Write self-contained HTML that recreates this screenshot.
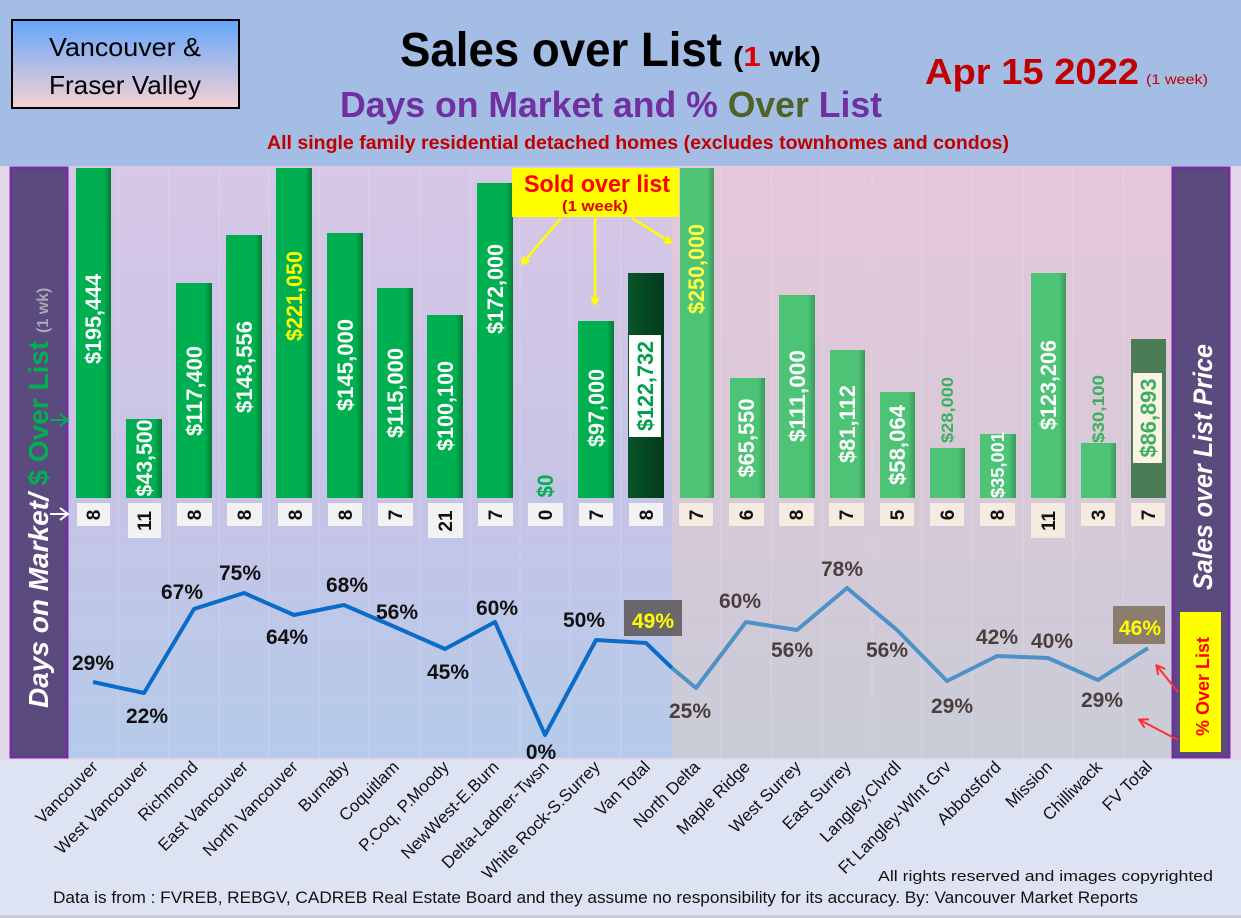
<!DOCTYPE html>
<html><head><meta charset="utf-8"><style>
html,body{margin:0;padding:0;background:#dde3f3;}
svg{display:block;font-family:"Liberation Sans",sans-serif;}
</style></head><body>
<svg width="1241" height="918" viewBox="0 0 1241 918" xmlns="http://www.w3.org/2000/svg">
<defs>
<linearGradient id="bgL" x1="0" y1="0" x2="0" y2="1"><stop offset="0" stop-color="#d8c7e6"/><stop offset="0.55" stop-color="#c6c4e6"/><stop offset="1" stop-color="#b6cbea"/></linearGradient>
<linearGradient id="bgR" x1="0" y1="0" x2="0" y2="1"><stop offset="0" stop-color="#e5c8da"/><stop offset="0.55" stop-color="#d7c9d8"/><stop offset="1" stop-color="#c9ccd8"/></linearGradient>
<linearGradient id="box" x1="0" y1="0" x2="0" y2="1"><stop offset="0" stop-color="#63a6fb"/><stop offset="1" stop-color="#f7d1d3"/></linearGradient>
<linearGradient id="gb" x1="0" y1="0" x2="1" y2="0"><stop offset="0" stop-color="#00b050"/><stop offset="0.8" stop-color="#00b050"/><stop offset="1" stop-color="#067a38"/></linearGradient>
<linearGradient id="gr" x1="0" y1="0" x2="1" y2="0"><stop offset="0" stop-color="#4dc376"/><stop offset="0.8" stop-color="#4dc376"/><stop offset="1" stop-color="#3a9a5a"/></linearGradient>
<linearGradient id="gd" x1="0" y1="0" x2="1" y2="0"><stop offset="0" stop-color="#08552a"/><stop offset="1" stop-color="#033a1b"/></linearGradient>
<marker id="ay" markerWidth="8" markerHeight="8" refX="6" refY="4" orient="auto" markerUnits="userSpaceOnUse"><path d="M0,0 L7,4 L0,8" fill="none" stroke="#ffff00" stroke-width="2.5"/></marker>
<marker id="ar" markerWidth="10" markerHeight="10" refX="8" refY="5" orient="auto" markerUnits="userSpaceOnUse"><path d="M0,0 L9,5 L0,10" fill="none" stroke="#ff3030" stroke-width="2"/></marker>
</defs>
<rect x="0" y="0" width="1241" height="918" fill="#dde3f3"/>
<rect x="0" y="0" width="1241" height="166" fill="#a3bde5"/>
<rect x="0" y="166" width="1241" height="594" fill="#e3d6ea"/>
<rect x="68" y="166" width="604" height="592" fill="url(#bgL)"/>
<rect x="672" y="166" width="500" height="592" fill="url(#bgR)"/>
<g stroke="#ffffff" stroke-opacity="0.18" stroke-width="1">
<line x1="118" y1="166" x2="118" y2="758"/><line x1="169" y1="166" x2="169" y2="758"/><line x1="219" y1="166" x2="219" y2="758"/><line x1="269" y1="166" x2="269" y2="758"/><line x1="319" y1="166" x2="319" y2="758"/><line x1="369" y1="166" x2="369" y2="758"/><line x1="420" y1="166" x2="420" y2="758"/><line x1="470" y1="166" x2="470" y2="758"/><line x1="520" y1="166" x2="520" y2="758"/><line x1="570" y1="166" x2="570" y2="758"/><line x1="621" y1="166" x2="621" y2="758"/><line x1="721" y1="166" x2="721" y2="758"/><line x1="771" y1="166" x2="771" y2="758"/><line x1="822" y1="166" x2="822" y2="758"/><line x1="872" y1="166" x2="872" y2="758"/><line x1="922" y1="166" x2="922" y2="758"/><line x1="972" y1="166" x2="972" y2="758"/><line x1="1023" y1="166" x2="1023" y2="758"/><line x1="1073" y1="166" x2="1073" y2="758"/><line x1="1123" y1="166" x2="1123" y2="758"/>
</g>

<rect x="12" y="20" width="227" height="88" fill="url(#box)" stroke="#000" stroke-width="2"/>
<text x="125" y="56" font-size="26" text-anchor="middle" fill="#000" textLength="152" lengthAdjust="spacingAndGlyphs">Vancouver &amp;</text>
<text x="125" y="94" font-size="26" text-anchor="middle" fill="#000" textLength="152" lengthAdjust="spacingAndGlyphs">Fraser Valley</text>
<text x="400" y="66" font-size="48" font-weight="bold" fill="#000" textLength="322" lengthAdjust="spacingAndGlyphs">Sales over List</text>
<text x="733" y="66" font-size="28" font-weight="bold" fill="#000" textLength="88" lengthAdjust="spacingAndGlyphs">(<tspan fill="#e00000">1</tspan> wk)</text>
<text x="340" y="117" font-size="36" font-weight="bold" fill="#7030a0" textLength="542" lengthAdjust="spacingAndGlyphs">Days on Market and % <tspan fill="#4f6228">Over</tspan> List</text>
<text x="267" y="149" font-size="19" font-weight="bold" fill="#c00000" textLength="742" lengthAdjust="spacingAndGlyphs">All single family residential detached homes (excludes townhomes and condos)</text>
<text x="925" y="84" font-size="36" font-weight="bold" fill="#c00000" textLength="214" lengthAdjust="spacingAndGlyphs">Apr 15  2022</text>
<text x="1146" y="84" font-size="14" fill="#c00000" textLength="62" lengthAdjust="spacingAndGlyphs">(1 week)</text>

<g>
<rect x="76" y="168" width="35" height="330" fill="url(#gb)"/>
<rect x="126" y="419" width="36" height="79" fill="url(#gb)"/>
<rect x="176" y="283" width="36" height="215" fill="url(#gb)"/>
<rect x="226" y="235" width="36" height="263" fill="url(#gb)"/>
<rect x="276" y="168" width="36" height="330" fill="url(#gb)"/>
<rect x="327" y="233" width="36" height="265" fill="url(#gb)"/>
<rect x="377" y="288" width="36" height="210" fill="url(#gb)"/>
<rect x="427" y="315" width="36" height="183" fill="url(#gb)"/>
<rect x="477" y="183" width="36" height="315" fill="url(#gb)"/>
<rect x="578" y="321" width="36" height="177" fill="url(#gb)"/>
<rect x="628" y="273" width="36" height="225" fill="url(#gd)"/>
<rect x="680" y="168" width="34" height="330" fill="url(#gr)"/>
<rect x="730" y="378" width="35" height="120" fill="url(#gr)"/>
<rect x="779" y="295" width="36" height="203" fill="url(#gr)"/>
<rect x="830" y="350" width="35" height="148" fill="url(#gr)"/>
<rect x="880" y="392" width="35" height="106" fill="url(#gr)"/>
<rect x="930" y="448" width="35" height="50" fill="url(#gr)"/>
<rect x="980" y="434" width="36" height="64" fill="url(#gr)"/>
<rect x="1031" y="273" width="35" height="225" fill="url(#gr)"/>
<rect x="1081" y="443" width="35" height="55" fill="url(#gr)"/>
<rect x="1131" y="339" width="35" height="159" fill="#4a7d55"/>
</g>
<g font-weight="bold" font-size="22" text-anchor="middle" fill="#fff">
<text transform="translate(101,319) rotate(-90)" textLength="90" lengthAdjust="spacingAndGlyphs">$195,444</text>
<text transform="translate(152,458) rotate(-90)" textLength="77" lengthAdjust="spacingAndGlyphs">$43,500</text>
<text transform="translate(202,391) rotate(-90)" textLength="90" lengthAdjust="spacingAndGlyphs">$117,400</text>
<text transform="translate(252,367) rotate(-90)" textLength="92" lengthAdjust="spacingAndGlyphs">$143,556</text>
<text transform="translate(302,296) rotate(-90)" fill="#ffff00" textLength="90" lengthAdjust="spacingAndGlyphs">$221,050</text>
<text transform="translate(353,365) rotate(-90)" textLength="92" lengthAdjust="spacingAndGlyphs">$145,000</text>
<text transform="translate(403,393) rotate(-90)" textLength="90" lengthAdjust="spacingAndGlyphs">$115,000</text>
<text transform="translate(453,406) rotate(-90)" textLength="90" lengthAdjust="spacingAndGlyphs">$100,100</text>
<text transform="translate(503,289) rotate(-90)" textLength="90" lengthAdjust="spacingAndGlyphs">$172,000</text>
<text transform="translate(553,486) rotate(-90)" fill="#00b050" textLength="23" lengthAdjust="spacingAndGlyphs">$0</text>
<text transform="translate(604,408) rotate(-90)" textLength="78" lengthAdjust="spacingAndGlyphs">$97,000</text>
<rect x="629" y="335" width="32" height="102" fill="#fff"/>
<text transform="translate(653,386) rotate(-90)" fill="#00a04a" textLength="90" lengthAdjust="spacingAndGlyphs">$122,732</text>
<text transform="translate(704,269) rotate(-90)" fill="#ffff44" textLength="90" lengthAdjust="spacingAndGlyphs">$250,000</text>
<text transform="translate(754,438) rotate(-90)" textLength="79" lengthAdjust="spacingAndGlyphs">$65,550</text>
<text transform="translate(805,396) rotate(-90)" textLength="92" lengthAdjust="spacingAndGlyphs">$111,000</text>
<text transform="translate(855,424) rotate(-90)" textLength="78" lengthAdjust="spacingAndGlyphs">$81,112</text>
<text transform="translate(905,445) rotate(-90)" textLength="80" lengthAdjust="spacingAndGlyphs">$58,064</text>
<text transform="translate(953,410) rotate(-90)" font-size="17" fill="#3cb060" textLength="66" lengthAdjust="spacingAndGlyphs">$28,000</text>
<text transform="translate(1004,465) rotate(-90)" font-size="18" textLength="66" lengthAdjust="spacingAndGlyphs">$35,001</text>
<text transform="translate(1056,385) rotate(-90)" textLength="90" lengthAdjust="spacingAndGlyphs">$123,206</text>
<text transform="translate(1104,409) rotate(-90)" font-size="17" fill="#3cb060" textLength="68" lengthAdjust="spacingAndGlyphs">$30,100</text>
<rect x="1133" y="373" width="29" height="90" fill="#fdf3e4"/>
<text transform="translate(1156,418) rotate(-90)" fill="#3cb060" textLength="79" lengthAdjust="spacingAndGlyphs">$86,893</text>
</g>

<g font-weight="bold" font-size="19" text-anchor="middle" fill="#111">
<g fill="#f2f2f2">
<rect x="77" y="503" width="33" height="23"/><rect x="128" y="503" width="33" height="35"/><rect x="177" y="503" width="35" height="23"/><rect x="227" y="503" width="35" height="23"/><rect x="278" y="503" width="34" height="23"/><rect x="328" y="503" width="34" height="23"/><rect x="378" y="503" width="35" height="23"/><rect x="428" y="503" width="35" height="35"/><rect x="478" y="503" width="35" height="23"/><rect x="528" y="503" width="35" height="23"/><rect x="579" y="503" width="34" height="23"/><rect x="629" y="503" width="34" height="23"/>
</g>
<g fill="#f6ebe0">
<rect x="679" y="503" width="34" height="23"/><rect x="729" y="503" width="35" height="23"/><rect x="779" y="503" width="35" height="23"/><rect x="829" y="503" width="35" height="23"/><rect x="880" y="503" width="34" height="23"/><rect x="930" y="503" width="34" height="23"/><rect x="980" y="503" width="35" height="23"/><rect x="1031" y="503" width="34" height="35"/><rect x="1081" y="503" width="34" height="23"/><rect x="1131" y="503" width="34" height="23"/>
</g>
<text transform="translate(100,515) rotate(-90)">8</text>
<text transform="translate(151,521) rotate(-90)">11</text>
<text transform="translate(201,515) rotate(-90)">8</text>
<text transform="translate(251,515) rotate(-90)">8</text>
<text transform="translate(302,515) rotate(-90)">8</text>
<text transform="translate(352,515) rotate(-90)">8</text>
<text transform="translate(402,515) rotate(-90)">7</text>
<text transform="translate(452,521) rotate(-90)">21</text>
<text transform="translate(502,515) rotate(-90)">7</text>
<text transform="translate(552,515) rotate(-90)">0</text>
<text transform="translate(603,515) rotate(-90)">7</text>
<text transform="translate(653,515) rotate(-90)">8</text>
<text transform="translate(703,515) rotate(-90)">7</text>
<text transform="translate(753,515) rotate(-90)">6</text>
<text transform="translate(803,515) rotate(-90)">8</text>
<text transform="translate(853,515) rotate(-90)">7</text>
<text transform="translate(904,515) rotate(-90)">5</text>
<text transform="translate(954,515) rotate(-90)">6</text>
<text transform="translate(1004,515) rotate(-90)">8</text>
<text transform="translate(1055,521) rotate(-90)">11</text>
<text transform="translate(1105,515) rotate(-90)">3</text>
<text transform="translate(1155,515) rotate(-90)">7</text>
</g>

<polyline points="93,682 144,693 194,609 244,593 294,615 344,605 395,627 445,649 495,622 545,735 596,640 646,643 672,668" fill="none" stroke="#0a6cc8" stroke-width="4" stroke-linejoin="round"/>
<polyline points="672,668 696,688 746,622 797,630 847,588 897,630 947,681 997,656 1048,658 1098,680 1148,648" fill="none" stroke="#4d91c6" stroke-width="4" stroke-linejoin="round"/>
<g font-weight="bold" font-size="21" text-anchor="middle" fill="#111">
<text x="93" y="670">29%</text><text x="147" y="723">22%</text><text x="182" y="599">67%</text><text x="240" y="580">75%</text><text x="287" y="644">64%</text><text x="347" y="592">68%</text><text x="397" y="619">56%</text><text x="448" y="679">45%</text><text x="497" y="615">60%</text><text x="541" y="759">0%</text><text x="584" y="627">50%</text>
<rect x="624" y="600" width="58" height="36" fill="#5a5656" fill-opacity="0.85"/>
<text x="653" y="628" fill="#ffff00">49%</text>
<g fill="#4a3f3c">
<text x="690" y="718">25%</text><text x="740" y="608">60%</text><text x="792" y="657">56%</text><text x="842" y="576">78%</text><text x="887" y="657">56%</text><text x="952" y="713">29%</text><text x="997" y="644">42%</text><text x="1052" y="648">40%</text><text x="1102" y="707">29%</text>
</g>
<rect x="1113" y="606" width="52" height="38" fill="#8b7d6e"/>
<text x="1140" y="635" fill="#ffff00">46%</text>
</g>

<rect x="512" y="168" width="167" height="49" fill="#ffff00"/>
<text x="597" y="192" font-size="24" font-weight="bold" fill="#ff0000" text-anchor="middle" textLength="146" lengthAdjust="spacingAndGlyphs">Sold over list</text>
<text x="595" y="211" font-size="15" font-weight="bold" fill="#e00000" text-anchor="middle" textLength="66" lengthAdjust="spacingAndGlyphs">(1 week)</text>
<g stroke="#ffff00" stroke-width="2.5" fill="none">
<line x1="561" y1="218" x2="523" y2="263" marker-end="url(#ay)"/>
<line x1="595" y1="218" x2="595" y2="303" marker-end="url(#ay)"/>
<line x1="632" y1="218" x2="670" y2="242" marker-end="url(#ay)"/>
</g>

<rect x="11" y="168" width="56" height="589" fill="#5b4a7e" stroke="#7030a0" stroke-width="3"/>
<text transform="translate(48,708) rotate(-90)" font-size="28" font-weight="bold" fill="#fff" font-style="italic">Days on Market/ <tspan fill="#00b050" font-style="normal">$ Over List</tspan> <tspan fill="#a8a8b8" font-size="16" font-style="normal">(1 wk)</tspan></text>
<g stroke="#00b050" stroke-width="2" fill="none"><line x1="50" y1="420" x2="68" y2="420"/><path d="M60,414 L68,420 L60,426"/></g>
<g stroke="#fff" stroke-width="2" fill="none"><line x1="50" y1="514" x2="68" y2="514"/><path d="M60,508 L68,514 L60,520"/></g>

<rect x="1173" y="168" width="56" height="589" fill="#5b4a7e" stroke="#7030a0" stroke-width="3"/>
<text transform="translate(1212,590) rotate(-90)" font-size="27" font-weight="bold" font-style="italic" fill="#fff" textLength="246" lengthAdjust="spacingAndGlyphs">Sales over List Price</text>
<rect x="1180" y="612" width="41" height="140" fill="#ffff00"/>
<text transform="translate(1209,736) rotate(-90)" font-size="18" font-weight="bold" fill="#ff0000">% Over List</text>
<g stroke="#ff3030" stroke-width="2" fill="none">
<line x1="1178" y1="692" x2="1157" y2="666" marker-end="url(#ar)"/>
<line x1="1178" y1="740" x2="1140" y2="720" marker-end="url(#ar)"/>
</g>

<g font-size="17" fill="#111" text-anchor="end">
<text transform="translate(99,768) rotate(-45)">Vancouver</text>
<text transform="translate(149,768) rotate(-45)">West Vancouver</text>
<text transform="translate(199,768) rotate(-45)">Richmond</text>
<text transform="translate(249,768) rotate(-45)">East Vancouver</text>
<text transform="translate(299,768) rotate(-45)">North Vancouver</text>
<text transform="translate(350,768) rotate(-45)">Burnaby</text>
<text transform="translate(400,768) rotate(-45)">Coquitlam</text>
<text transform="translate(450,768) rotate(-45)">P.Coq, P.Moody</text>
<text transform="translate(500,768) rotate(-45)">NewWest-E.Burn</text>
<text transform="translate(550,768) rotate(-45)">Delta-Ladner-Twsn</text>
<text transform="translate(601,768) rotate(-45)">White Rock-S.Surrey</text>
<text transform="translate(651,768) rotate(-45)">Van Total</text>
<text transform="translate(701,768) rotate(-45)">North Delta</text>
<text transform="translate(751,768) rotate(-45)">Maple Ridge</text>
<text transform="translate(802,768) rotate(-45)">West Surrey</text>
<text transform="translate(852,768) rotate(-45)">East Surrey</text>
<text transform="translate(902,768) rotate(-45)">Langley,Clvrdl</text>
<text transform="translate(952,768) rotate(-45)">Ft Langley-Wlnt Grv</text>
<text transform="translate(1002,768) rotate(-45)">Abbotsford</text>
<text transform="translate(1053,768) rotate(-45)">Mission</text>
<text transform="translate(1103,768) rotate(-45)">Chilliwack</text>
<text transform="translate(1153,768) rotate(-45)">FV Total</text>
</g>
<text x="878" y="881" font-size="15" fill="#111" textLength="335" lengthAdjust="spacingAndGlyphs">All rights reserved and  images copyrighted</text>
<text x="53" y="903" font-size="17" fill="#111" textLength="1085" lengthAdjust="spacingAndGlyphs">Data is from : FVREB, REBGV, CADREB Real Estate Board and they assume no responsibility for its accuracy. By: Vancouver Market Reports</text>
<rect x="0" y="915" width="1241" height="3" fill="#c8ccd6"/>
</svg>
</body></html>
